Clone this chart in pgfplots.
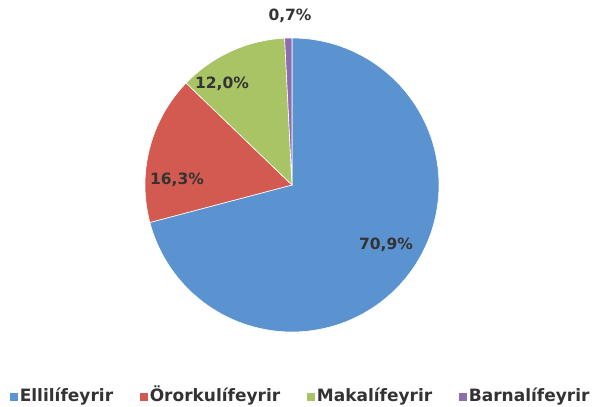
\documentclass[border=0pt]{standalone}
\usepackage{pgfplots}
\pgfplotsset{compat=1.18}
\usepackage{fontspec}
\setmainfont{DejaVu Sans}
\definecolor{cBlue}{HTML}{5A93CF}
\definecolor{cRed}{HTML}{D25A50}
\definecolor{cGreen}{HTML}{A8C465}
\definecolor{cPurple}{HTML}{8E6CB0}
\definecolor{cText}{HTML}{333333}
\begin{document}
\begin{tikzpicture}
\begin{axis}[
  x=1pt, y=1pt,
  xmin=0, xmax=592, ymin=0, ymax=407,
  hide axis, clip=false,
  legend columns=4,
  legend style={draw=none, fill=none, at={(axis cs:9,10)}, anchor=west,
    font=\bfseries\fontsize{17}{18}\selectfont, text=cText,
    /tikz/every even column/.append style={column sep=25pt},
    inner sep=0pt, nodes={inner sep=1pt, text height=12.5pt, text depth=3.5pt}},
  legend image code/.code={\fill[#1] (0pt,-4.5pt) rectangle (9pt,4.5pt);},
]
\path (axis cs:0,0) rectangle (axis cs:592,407);
% slices: start angle 90, clockwise; values 70.9, 16.3, 12.0, 0.7 (%)
\addplot[fill=cBlue, draw=white, line width=0.6pt, variable=\t, domain=-165.24:90, samples=120]
  ({292+147*cos(t)},{222+147*sin(t)}) -- (axis cs:292,222) -- cycle;
\addlegendentry{Ellilífeyrir}
\addplot[fill=cRed, draw=white, line width=0.6pt, variable=\t, domain=-223.92:-165.24, samples=40]
  ({292+147*cos(t)},{222+147*sin(t)}) -- (axis cs:292,222) -- cycle;
\addlegendentry{Örorkulífeyrir}
\addplot[fill=cGreen, draw=white, line width=0.6pt, variable=\t, domain=-267.12:-223.92, samples=30]
  ({292+147*cos(t)},{222+147*sin(t)}) -- (axis cs:292,222) -- cycle;
\addlegendentry{Makalífeyrir}
\addplot[fill=cPurple, draw=white, line width=0.6pt, variable=\t, domain=-270:-267.12, samples=5]
  ({292+147*cos(t)},{222+147*sin(t)}) -- (axis cs:292,222) -- cycle;
\addlegendentry{Barnalífeyrir}
\begin{scope}[every node/.style={font=\bfseries\fontsize{15.5}{17}\selectfont, text=cText}]
\node at (axis cs:386,162) {70,9\%};
\node at (axis cs:177,227) {16,3\%};
\node at (axis cs:222,323) {12,0\%};
\node at (axis cs:290,391) {0,7\%};
\end{scope}
\end{axis}
\end{tikzpicture}
\end{document}
